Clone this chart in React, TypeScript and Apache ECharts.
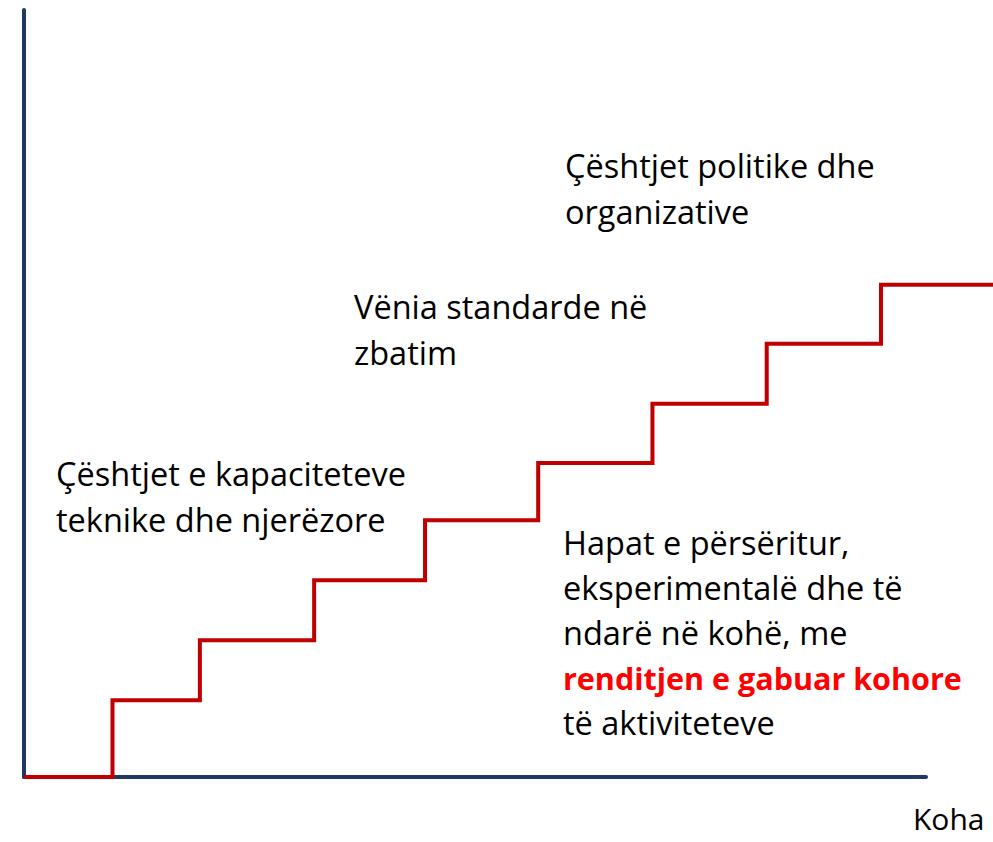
import React, { useEffect, useRef } from "react";
import * as echarts from "echarts";

// Step positions along the time axis (arbitrary time units)
const stepTimes = [0, 0.79, 1.57, 2.59, 3.58, 4.59, 5.61, 6.63, 7.65, 8.65];
// Level reached at each step (arbitrary progress units)
const stepLevels = [0, 1.28, 2.28, 3.28, 4.28, 5.23, 6.22, 7.22, 8.2, 8.2];

const labelTopRight = ["Çështjet politike dhe", "organizative"];
const labelMiddle = ["Vënia standarde në", "zbatim"];
const labelLeft = ["Çështjet e kapaciteteve", "teknike dhe njerëzore"];
const labelSteps = [
  "Hapat e përsëritur,",
  "eksperimentalë dhe të",
  "ndarë në kohë, me",
];
const labelStepsRed = "renditjen e gabuar kohore";
const labelStepsEnd = "të aktiviteteve";
const xAxisName = "Koha";

const FONT = "'Open Sans', 'Noto Sans', sans-serif";
const NAVY = "#1F3864";
const RED_LINE = "#C00000";

export default function App() {
  const ref = useRef<HTMLDivElement>(null);

  useEffect(() => {
    if (!ref.current) return;
    const chart = echarts.init(ref.current, undefined, { renderer: "svg" });
    const fs = 32.5;
    const fsBold = 30.5;
    const lh = 46;
    const plain = (
      x: number,
      y: number,
      lines: string[],
      size = fs,
      lineHeight = lh
    ) => ({
      type: "text",
      x,
      y,
      style: {
        text: lines.join("\n"),
        font: `${size}px ${FONT}`,
        fill: "#000",
        lineHeight,
        verticalAlign: "top",
        align: "left",
      },
    });
    const stepsRich = [
      ...labelSteps.map((l) => `{n|${l}}`),
      `{r|${labelStepsRed}}`,
      `{n|${labelStepsEnd}}`,
    ].join("\n");

    chart.setOption({
      animation: false,
      backgroundColor: "#fff",
      textStyle: { fontFamily: FONT },
      grid: [
        { left: 24, top: 10, right: 67, bottom: 65 },
        { left: 24, top: 10, right: 0, bottom: 65 },
      ],
      xAxis: [
        {
          type: "value",
          gridIndex: 0,
          min: 0,
          max: 8.05,
          axisLine: { show: true, lineStyle: { color: NAVY, width: 4 } },
          axisTick: { show: false },
          axisLabel: { show: false },
          splitLine: { show: false },
        },
        {
          type: "value",
          gridIndex: 1,
          min: 0,
          max: 8.65,
          show: false,
        },
      ],
      yAxis: [
        {
          type: "value",
          gridIndex: 0,
          min: 0,
          max: 12.78,
          axisLine: { show: true, lineStyle: { color: NAVY, width: 4 } },
          axisTick: { show: false },
          axisLabel: { show: false },
          splitLine: { show: false },
        },
        {
          type: "value",
          gridIndex: 1,
          min: 0,
          max: 12.78,
          show: false,
        },
      ],
      series: [
        {
          type: "line",
          xAxisIndex: 1,
          yAxisIndex: 1,
          step: "end",
          symbol: "none",
          clip: false,
          z: 5,
          lineStyle: { color: RED_LINE, width: 4, join: "miter" },
          data: stepTimes.map((t, i) => [t, stepLevels[i]]),
        },
      ],
      graphic: [
        plain(565, 142, labelTopRight),
        plain(354, 283, labelMiddle),
        plain(56, 450, labelLeft),
        {
          type: "text",
          x: 563,
          y: 520,
          style: {
            text: stepsRich,
            font: `${fs}px ${FONT}`,
            fill: "#000",
            lineHeight: 45,
            verticalAlign: "top",
            align: "left",
            rich: {
              n: {
                fontSize: fs,
                fontFamily: FONT,
                fill: "#000",
                lineHeight: 45,
              },
              r: {
                fontSize: fsBold,
                fontFamily: FONT,
                fill: "#FF0000",
                fontWeight: "bold",
                lineHeight: 45,
              },
            },
          },
        },
        plain(913, 803, [xAxisName], 30, 30),
      ],
    });
    return () => chart.dispose();
  }, []);

  return (
    <div
      ref={ref}
      style={{
        position: "fixed",
        left: 0,
        top: 0,
        width: 993,
        height: 842,
        background: "#fff",
      }}
    />
  );
}
